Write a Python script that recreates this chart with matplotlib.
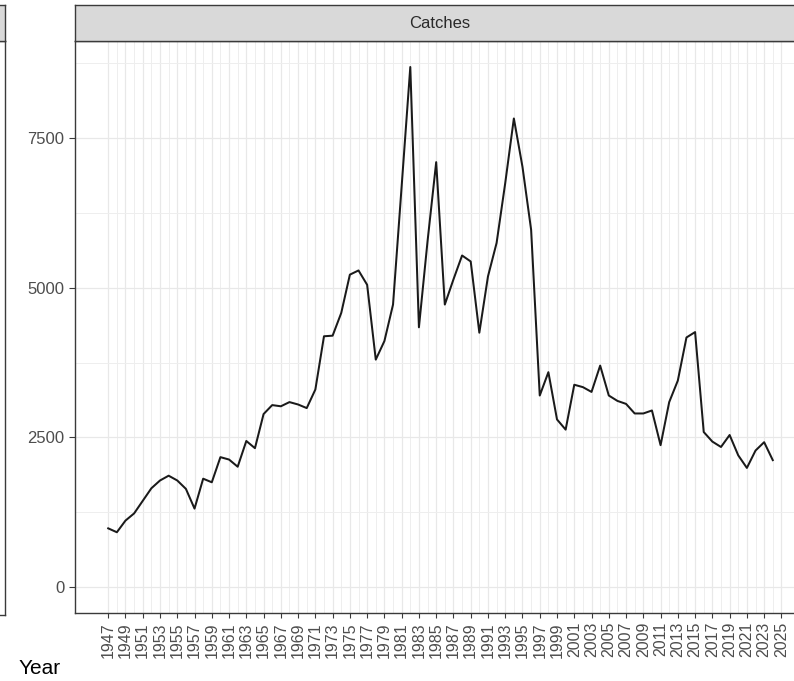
import numpy as np
import matplotlib.pyplot as plt

plt.rcParams['font.family'] = ['Liberation Sans', 'DejaVu Sans']

years = np.arange(1947, 2025)
catches = [980, 915, 1110, 1230, 1440, 1650, 1780, 1860, 1780, 1640,
           1310, 1810, 1750, 2170, 2130, 2010, 2440, 2320, 2890, 3040,
           3020, 3090, 3050, 2990, 3300, 4190, 4200, 4580, 5220, 5290,
           5050, 3800, 4110, 4720, 6700, 8690, 4340, 5780, 7100, 4720,
           5140, 5540, 5440, 4250, 5190, 5750, 6750, 7830, 7020, 5970,
           3200, 3590, 2800, 2630, 3380, 3340, 3260, 3700, 3200, 3110,
           3060, 2900, 2900, 2950, 2370, 3090, 3450, 4170, 4260, 2590,
           2430, 2340, 2540, 2200, 1990, 2280, 2420, 2120]
year_breaks = np.arange(1947, 2026, 2)
catch_breaks = [0, 2500, 5000, 7500]
panel_title = "Catches"

W, H = 794, 681
fig = plt.figure(figsize=(W / 100, H / 100), dpi=100)
fig.patch.set_facecolor('white')

border = '#3A3A3A'
strip_fill = '#D9D9D9'

# panel geometry in pixels
px_left, px_right = 75, 806
px_top, px_bottom = 41, 613
strip_top = 5


def fx(px):
    return px / W


def fy(py):
    return 1 - py / H


ax = fig.add_axes([fx(px_left), fy(px_bottom), fx(px_right - px_left),
                   (px_bottom - px_top) / H])
ax.plot(years, catches, color='#1A1A1A', lw=1.45, zorder=3)

# ggplot-style 5% expansion
xpad = 0.05 * (years.max() - years.min())
ax.set_xlim(years.min() - xpad, years.max() + xpad)
ylo, yhi = 0, max(catches)
ypad = 0.05 * (yhi - ylo)
ax.set_ylim(ylo - ypad, yhi + ypad)

ax.set_xticks(year_breaks)
ax.set_xticklabels([str(y) for y in year_breaks], rotation=90)
ax.set_xticks(year_breaks[:-1] + 1, minor=True)
ax.set_yticks(catch_breaks)
ax.set_yticks([1250, 3750, 6250, 8750], minor=True)

ax.grid(which='major', color='#E8E8E8', lw=0.9)
ax.grid(which='minor', color='#EEEEEE', lw=0.7)
ax.set_axisbelow(True)

ax.tick_params(axis='x', which='major', length=3.5, width=0.8, color=border,
               labelsize=11.5, labelcolor='#4D4D4D', pad=3)
ax.tick_params(axis='y', which='major', length=4.5, width=0.8, color=border,
               labelsize=12, labelcolor='#4D4D4D', pad=3)
ax.tick_params(which='minor', length=0)
for s in ax.spines.values():
    s.set_color(border)
    s.set_linewidth(1.0)

# facet strip
sax = fig.add_axes([fx(px_left), fy(px_top), fx(px_right - px_left),
                    (px_top - strip_top) / H])
sax.set_facecolor(strip_fill)
sax.set_xticks([])
sax.set_yticks([])
for s in sax.spines.values():
    s.set_color(border)
    s.set_linewidth(1.0)
sax.text((440 - px_left) / (px_right - px_left), 0.5, panel_title,
         transform=sax.transAxes, ha='center', va='center', fontsize=12,
         color='#2A2A2A')

# edge of the neighbouring panel on the left
lax = fig.add_axes([fx(-300), fy(px_bottom + 2), fx(305), (px_bottom + 2 - px_top) / H])
lax.set_xticks([])
lax.set_yticks([])
for s in lax.spines.values():
    s.set_color(border)
    s.set_linewidth(1.0)
lsax = fig.add_axes([fx(-300), fy(px_top), fx(305), (px_top - strip_top) / H])
lsax.set_facecolor(strip_fill)
lsax.set_xticks([])
lsax.set_yticks([])
for s in lsax.spines.values():
    s.set_color(border)
    s.set_linewidth(1.0)

fig.text(fx(19), fy(668), "Year", fontsize=15, color='black', ha='left', va='center')

fig.savefig('out.png', dpi=100)
